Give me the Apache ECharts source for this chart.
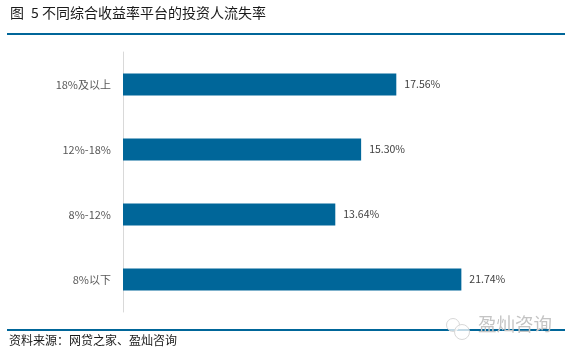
<!DOCTYPE html>
<html>
<head>
<meta charset="utf-8">
<style>
  html, body { margin: 0; padding: 0; background: #fff; }
  #main { width: 572px; height: 356px; }
</style>
<script src="https://cdn.jsdelivr.net/npm/echarts@6/dist/echarts.min.js"></script>
</head>
<body>
<div id="main"></div>
<script>
var categories = ["18%及以上", "12%-18%", "8%-12%", "8%以下"];
var lossRate = [17.56, 15.30, 13.64, 21.74];
var titleFigure = "图";
var titleNumber = "5";
var titleText = "不同综合收益率平台的投资人流失率";
var sourceText = "资料来源\uFF1A网贷之家、盈灿咨询";
var watermarkText = "盈灿咨询";

var font = '"Noto Sans CJK SC", sans-serif';
var chart = echarts.init(document.getElementById("main"));

chart.setOption({
  backgroundColor: "#fff",
  animation: false,
  grid: { left: 123, top: 52, width: 400, height: 260 },
  xAxis: { type: "value", min: 0, max: 25.7, show: false },
  yAxis: {
    type: "category",
    inverse: true,
    data: categories,
    axisLine: { lineStyle: { color: "#d9d9d9", width: 1 } },
    axisTick: { show: false },
    axisLabel: { color: "#595959", fontSize: 11, fontFamily: font, margin: 12 }
  },
  series: [
    {
      type: "bar",
      data: lossRate,
      barWidth: 22,
      itemStyle: { color: "#006699" },
      label: {
        show: true,
        position: "right",
        distance: 8,
        color: "#404040",
        fontSize: 10.5,
        fontFamily: font,
        formatter: function (p) { return p.value.toFixed(2) + "%"; }
      }
    }
  ],
  graphic: [
    // title pieces sit apart like the original layout
    { type: "text", x: 10, y: 6, style: { text: titleFigure, fill: "#1a1a1a", font: "14px " + font } },
    { type: "text", x: 31, y: 6, style: { text: titleNumber, fill: "#1a1a1a", font: "14px " + font } },
    { type: "text", x: 42, y: 6, style: { text: titleText, fill: "#1a1a1a", font: "14px " + font } },
    { type: "rect", shape: { x: 7, y: 33, width: 558, height: 2 }, style: { fill: "#006699" } },
    { type: "rect", shape: { x: 7, y: 329, width: 558, height: 2 }, style: { fill: "#006699" } },
    { type: "text", x: 9, y: 334, style: { text: sourceText, fill: "#1a1a1a", font: "12px " + font } },
    // watermark bubbles
    { type: "circle", shape: { cx: 453, cy: 325, r: 6.5 }, style: { fill: "rgba(255,255,255,0.75)", stroke: "#d8d8d8", lineWidth: 1 } },
    { type: "circle", shape: { cx: 462, cy: 332, r: 7.5 }, style: { fill: "rgba(255,255,255,0.75)", stroke: "#d8d8d8", lineWidth: 1 } },
    { type: "text", x: 478, y: 315, style: { text: watermarkText, fill: "#c4c4c4", font: "18.5px " + font } }
  ]
});
</script>
</body>
</html>
